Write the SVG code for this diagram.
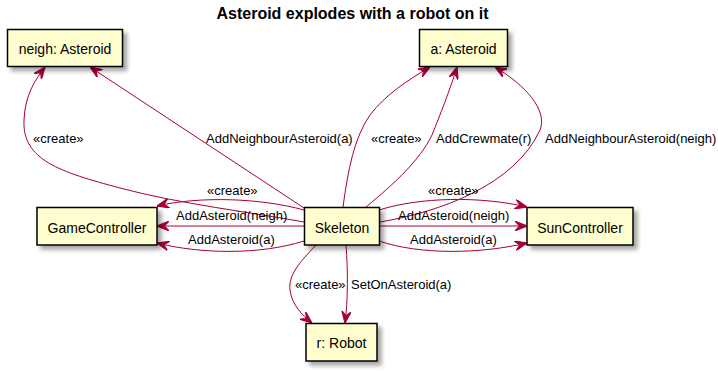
<svg xmlns="http://www.w3.org/2000/svg" width="718" height="372" viewBox="0 0 718 372">
  <style>
    .box { fill: #FEFECE; stroke: #000000; stroke-width: 1.5; filter: url(#shadow); }
    .name { font-family: "Liberation Sans", Arial, sans-serif; font-size: 14px; fill: #000000; text-anchor: middle; }
    .edge { fill: none; stroke: #A80036; stroke-width: 1; marker-end: url(#arrow); }
    .lbl { font-family: "Liberation Sans", Arial, sans-serif; font-size: 13px; fill: #000000; }
    .title { font-family: "Liberation Sans", Arial, sans-serif; font-size: 16px; font-weight: bold; fill: #000000; text-anchor: middle; }
  </style>
  <defs>
    <filter id="shadow" x="-20%" y="-20%" width="150%" height="160%">
      <feGaussianBlur in="SourceAlpha" stdDeviation="2" result="blur"/>
      <feOffset in="blur" dx="4" dy="4" result="off"/>
      <feComponentTransfer in="off" result="soft">
        <feFuncA type="linear" slope="0.35"/>
      </feComponentTransfer>
      <feMerge>
        <feMergeNode in="soft"/>
        <feMergeNode in="SourceGraphic"/>
      </feMerge>
    </filter>
    <marker id="arrow" markerUnits="userSpaceOnUse" markerWidth="12" markerHeight="10" viewBox="0 0 10 8" refX="10" refY="4" orient="auto">
      <path d="M0,0 L10,4 L0,8 L4,4 Z" fill="#A80036" stroke="#A80036" stroke-width="1" stroke-linejoin="miter"/>
    </marker>
  </defs>

  <rect width="718" height="372" fill="#FFFFFF"/>

  <text class="title" x="352.5" y="19">Asteroid explodes with a robot on it</text>

  <!-- connectors -->
  <g id="connectors">
    <path class="edge" d="M304,222 C250,212 180,204 120,188 C60,172 22,160 24,120 C25,95 35,80 45,67"/>
    <path class="edge" d="M304,208 L90,67"/>
    <path class="edge" d="M343,207 C348,170 354,138 370,115 C385,95 408,80 430,67"/>
    <path class="edge" d="M366,207 C395,183 420,160 432,135 C440,115 450,90 457,67"/>
    <path class="edge" d="M380,222 C440,212 515,185 540,130 C548,110 525,85 495,67"/>
    <path class="edge" d="M304,210 C260,198 200,196 157,206"/>
    <path class="edge" d="M304,226 L157,226"/>
    <path class="edge" d="M304,241 C260,255 200,254 157,243"/>
    <path class="edge" d="M379,210 C420,197 480,196 527,207"/>
    <path class="edge" d="M379,226 L527,226"/>
    <path class="edge" d="M379,241 C420,255 480,254 527,243"/>
    <path class="edge" d="M316,245 C300,262 288,275 290,290 C292,305 302,315 312,323"/>
    <path class="edge" d="M346,245 C348,270 348,300 345,323"/>

    <text class="lbl" x="33" y="143">«create»</text>
    <text class="lbl" x="206" y="143">AddNeighbourAsteroid(a)</text>
    <text class="lbl" x="371" y="143">«create»</text>
    <text class="lbl" x="436" y="143">AddCrewmate(r)</text>
    <text class="lbl" x="545" y="143">AddNeighbourAsteroid(neigh)</text>
    <text class="lbl" x="207" y="195">«create»</text>
    <text class="lbl" x="176" y="220">AddAsteroid(neigh)</text>
    <text class="lbl" x="188" y="243.5">AddAsteroid(a)</text>
    <text class="lbl" x="428" y="195">«create»</text>
    <text class="lbl" x="398" y="220">AddAsteroid(neigh)</text>
    <text class="lbl" x="410" y="243.5">AddAsteroid(a)</text>
    <text class="lbl" x="295" y="289">«create»</text>
    <text class="lbl" x="351" y="289">SetOnAsteroid(a)</text>
  </g>

  <!-- nodes -->
  <g id="neigh">
    <rect class="box" x="7.5" y="29.5" width="115" height="37"/>
    <text class="name" x="65" y="54">neigh: Asteroid</text>
  </g>
  <g id="a">
    <rect class="box" x="419.5" y="29.5" width="88" height="37"/>
    <text class="name" x="463.5" y="54">a: Asteroid</text>
  </g>
  <g id="GameController">
    <rect class="box" x="37" y="207.5" width="120" height="37.5"/>
    <text class="name" x="97" y="232.5">GameController</text>
  </g>
  <g id="Skeleton">
    <rect class="box" x="304.5" y="207.5" width="75" height="37.5"/>
    <text class="name" x="342" y="232.5">Skeleton</text>
  </g>
  <g id="SunController">
    <rect class="box" x="527" y="207.5" width="106" height="37.5"/>
    <text class="name" x="580" y="232.5">SunController</text>
  </g>
  <g id="r">
    <rect class="box" x="306" y="323.5" width="71" height="37.5"/>
    <text class="name" x="341.5" y="347.5">r: Robot</text>
  </g>
</svg>
